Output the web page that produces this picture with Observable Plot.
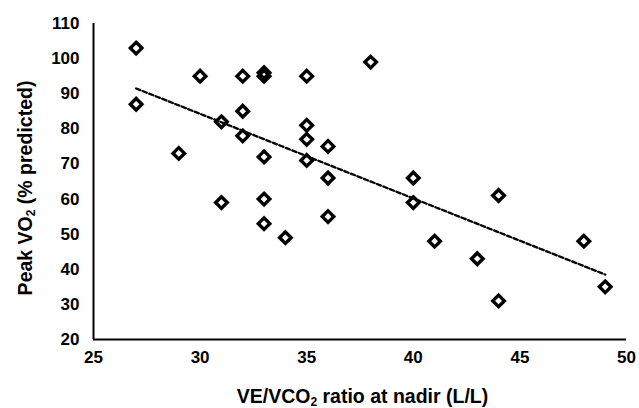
<!DOCTYPE html>
<html>
<head>
<meta charset="utf-8">
<script src="https://cdn.jsdelivr.net/npm/d3@7"></script>
<script src="https://cdn.jsdelivr.net/npm/@observablehq/plot@0.6"></script>
<style>
  html, body { margin: 0; padding: 0; background: #fff; }
  #chart svg { display: block; }
</style>
</head>
<body>
<div id="chart"></div>
<script>
// VE/VCO2 ratio at nadir (L/L)
const veVco2 = [27, 27, 29, 30, 31, 31, 32, 32, 32, 33, 33, 33, 33, 33, 34, 35, 35, 35, 35, 36, 36, 36, 38, 40, 40, 41, 43, 44, 44, 48, 49];
// Peak VO2 (% predicted)
const peakVo2 = [103, 87, 73, 95, 82, 59, 95, 85, 78, 96, 95, 72, 60, 53, 49, 95, 81, 77, 71, 75, 66, 55, 99, 66, 59, 48, 43, 61, 31, 48, 35];
// Trend line endpoints
const trendX = [27, 49];
const trendY = [91.5, 38.5];
const xTicks = [25, 30, 35, 40, 45, 50];
const yTicks = [20, 30, 40, 50, 60, 70, 80, 90, 100, 110];

const points = veVco2.map((v, i) => ({x: v, y: peakVo2[i]}));
const trend = trendX.map((v, i) => ({x: v, y: trendY[i]}));

const font = "'Liberation Sans', Arial, sans-serif";

const plot = Plot.plot({
  width: 639,
  height: 408,
  marginLeft: 93,
  marginRight: 13,
  marginTop: 23,
  marginBottom: 69,
  style: {fontFamily: font, fontSize: "17px", fontWeight: "bold", color: "#000", background: "#fff"},
  x: {domain: [25, 50], ticks: xTicks, tickSize: 0, tickPadding: 11, label: null},
  y: {domain: [20, 110], ticks: yTicks, tickSize: 0, tickPadding: 14, label: null},
  marks: [
    Plot.line(trend, {x: "x", y: "y", stroke: "#000", strokeWidth: 2.3, strokeDasharray: "4.5,2.5"}),
    Plot.dot(points, {x: "x", y: "y", symbol: "diamond2", r: 5.2, stroke: "#000", strokeWidth: 3.4, fill: "none"}),
    Plot.ruleX([25], {stroke: "#000", strokeWidth: 2}),
    Plot.ruleY([20], {stroke: "#000", strokeWidth: 2})
  ]
});

const svg = d3.select(plot);
const xs = plot.scale("x"), ys = plot.scale("y");
const cx = (xs.range[0] + xs.range[1]) / 2 + 3;
const cy = (ys.range[0] + ys.range[1]) / 2 + 7;

const xt = svg.append("text")
  .attr("x", cx).attr("y", 403)
  .attr("text-anchor", "middle")
  .style("font-family", font).style("font-size", "19.5px").style("font-weight", "bold").attr("fill", "#000");
xt.append("tspan").text("VE/VCO");
xt.append("tspan").attr("baseline-shift", "-25%").style("font-size", "12px").text("2");
xt.append("tspan").text(" ratio at nadir (L/L)");

const yt = svg.append("text")
  .attr("transform", `translate(32,${cy}) rotate(-90)`)
  .attr("text-anchor", "middle")
  .style("font-family", font).style("font-size", "19.5px").style("font-weight", "bold").attr("fill", "#000");
yt.append("tspan").text("Peak VO");
yt.append("tspan").attr("baseline-shift", "-25%").style("font-size", "12px").text("2");
yt.append("tspan").text(" (% predicted)");

document.getElementById("chart").appendChild(plot);
</script>
</body>
</html>
